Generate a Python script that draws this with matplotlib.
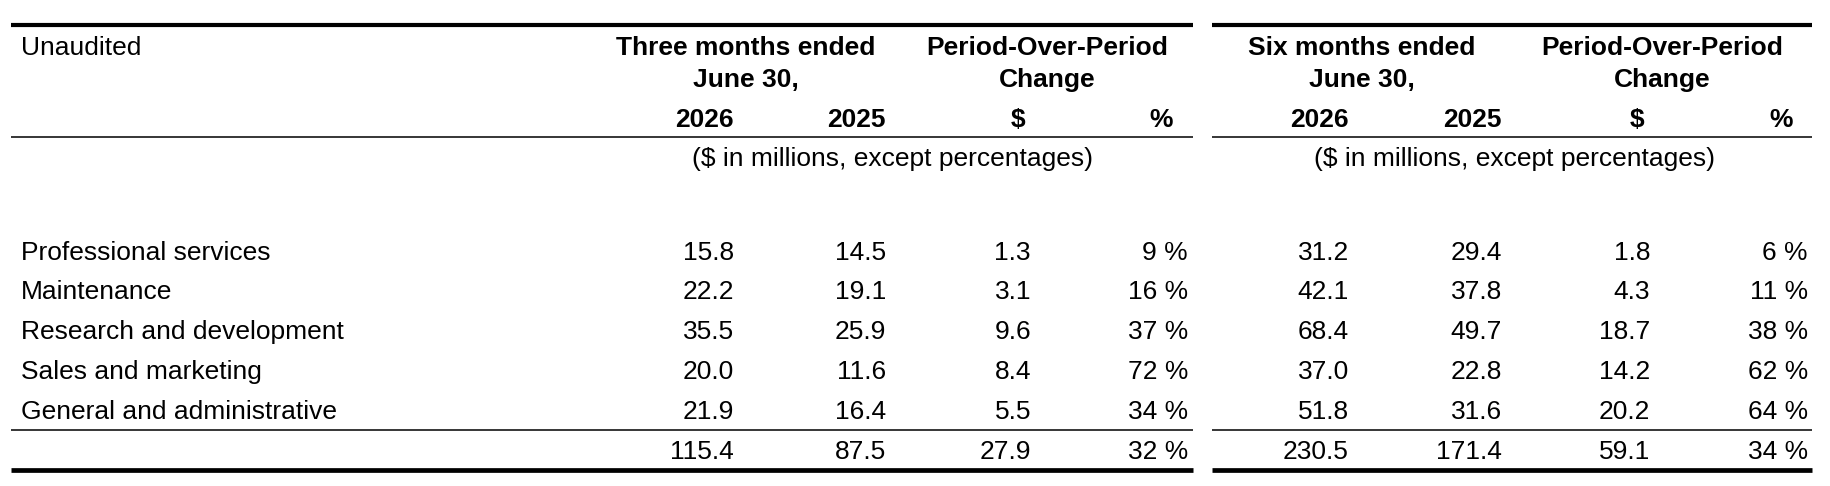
import matplotlib.pyplot as plt

# table content
row_labels = ["Professional services", "Maintenance", "Research and development",
              "Sales and marketing", "General and administrative", ""]

q_2026 = [15.8, 22.2, 35.5, 20.0, 21.9, 115.4]
q_2025 = [14.5, 19.1, 25.9, 11.6, 16.4, 87.5]
q_chg = [1.3, 3.1, 9.6, 8.4, 5.5, 27.9]
q_pct = [9, 16, 37, 72, 34, 32]

h_2026 = [31.2, 42.1, 68.4, 37.0, 51.8, 230.5]
h_2025 = [29.4, 37.8, 49.7, 22.8, 31.6, 171.4]
h_chg = [1.8, 4.3, 18.7, 14.2, 20.2, 59.1]
h_pct = [6, 11, 38, 62, 64, 34]

group_titles = [("Three months ended", "June 30,"), ("Six months ended", "June 30,")]
change_title = ("Period-Over-Period", "Change")
sub_headers = ["2026", "2025", "$", "%"]
units_note = "($ in millions, except percentages)"
corner_label = "Unaudited"

W, H = 1830, 486
fig = plt.figure(figsize=(W / 100, H / 100), dpi=100)
ax = fig.add_axes([0, 0, 1, 1])
ax.set_xlim(0, W)
ax.set_ylim(H, 0)
ax.axis("off")

plt.rcParams["font.family"] = ["Liberation Sans", "DejaVu Sans"]
fs = 19

# layout (pixels)
label_x = 21
row_base = [260, 299, 339, 379, 419, 459]
groups = [
    dict(x0=11, x1=1193, cols=[734, 886, 1031, 1188], title_x=746, chg_x=1047, note_x=893,
         vals=[q_2026, q_2025, q_chg, q_pct]),
    dict(x0=1212, x1=1812, cols=[1349, 1502, 1650, 1808], title_x=1362, chg_x=1662, note_x=1514,
         vals=[h_2026, h_2025, h_chg, h_pct]),
]

ax.text(label_x, 55, corner_label, fontsize=fs, ha="left", va="baseline")

for gi, g in enumerate(groups):
    # rules
    ax.plot([g["x0"], g["x1"]], [25, 25], color="black", lw=3.0, solid_capstyle="butt")
    ax.plot([g["x0"], g["x1"]], [137, 137], color="black", lw=1.1, solid_capstyle="butt")
    ax.plot([g["x0"], g["x1"]], [430, 430], color="black", lw=1.1, solid_capstyle="butt")
    ax.plot([g["x0"], g["x1"]], [470, 470], color="black", lw=3.4, solid_capstyle="butt")

    ax.text(g["title_x"], 55, group_titles[gi][0], fontsize=fs, fontweight="bold", ha="center", va="baseline")
    ax.text(g["title_x"], 87, group_titles[gi][1], fontsize=fs, fontweight="bold", ha="center", va="baseline")
    ax.text(g["chg_x"], 55, change_title[0], fontsize=fs, fontweight="bold", ha="center", va="baseline")
    ax.text(g["chg_x"], 87, change_title[1], fontsize=fs, fontweight="bold", ha="center", va="baseline")

    c = g["cols"]
    ax.text(c[0], 127, sub_headers[0], fontsize=fs, fontweight="bold", ha="right", va="baseline")
    ax.text(c[1], 127, sub_headers[1], fontsize=fs, fontweight="bold", ha="right", va="baseline")
    ax.text(c[2] - 13, 127, sub_headers[2], fontsize=fs, fontweight="bold", ha="center", va="baseline")
    ax.text(c[3] - 15, 127, sub_headers[3], fontsize=fs, fontweight="bold", ha="right", va="baseline")

    ax.text(g["note_x"], 166, units_note, fontsize=fs, ha="center", va="baseline")

    v = g["vals"]
    for i, yb in enumerate(row_base):
        ax.text(c[0], yb, f"{v[0][i]:.1f}", fontsize=fs, ha="right", va="baseline")
        ax.text(c[1], yb, f"{v[1][i]:.1f}", fontsize=fs, ha="right", va="baseline")
        ax.text(c[2], yb, f"{v[2][i]:.1f}", fontsize=fs, ha="right", va="baseline")
        ax.text(c[3], yb, f"{v[3][i]} %", fontsize=fs, ha="right", va="baseline")

for i, yb in enumerate(row_base):
    ax.text(label_x, yb, row_labels[i], fontsize=fs, ha="left", va="baseline")

fig.savefig("out.png", dpi=100)
